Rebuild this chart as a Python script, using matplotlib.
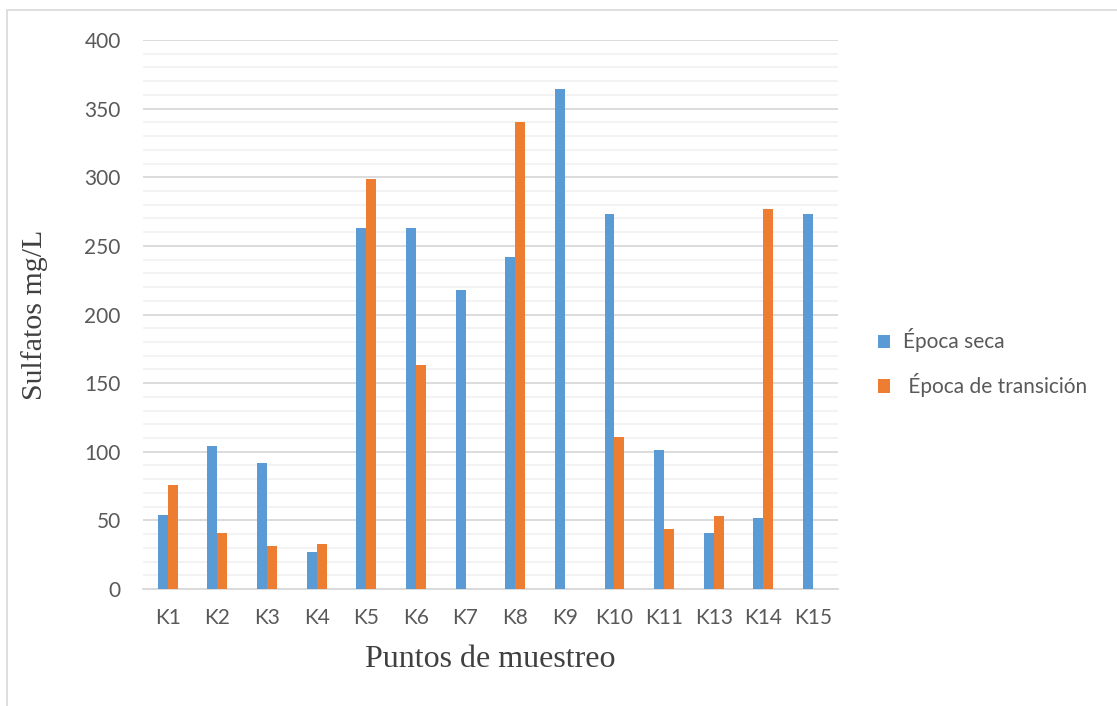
import numpy as np
import matplotlib.pyplot as plt
from matplotlib.patches import Rectangle

puntos = ["K1", "K2", "K3", "K4", "K5", "K6", "K7", "K8", "K9", "K10", "K11", "K13", "K14", "K15"]
seca = [54, 104, 92, 27, 263, 263, 218, 242, 364, 273, 101, 41, 52, 273]
transicion = [76, 41, 31, 33, 299, 163, 0, 340, 0, 111, 44, 53, 277, 0]

azul = "#5B9BD5"
naranja = "#ED7D31"
gris = "#595959"

fig = plt.figure(figsize=(11.17, 7.06), dpi=100)
ax = fig.add_axes([0.128, 0.1657, 0.622, 0.7776])

# marco fino del grafico
fig.patches.append(Rectangle((7 / 1117, -0.1), 1.2, 1.1 - 10 / 706, transform=fig.transFigure,
                             fill=False, edgecolor="#d9d9d9", linewidth=1.2))

x = np.arange(len(puntos))
w = 0.2
ax.bar(x - w / 2, seca, w, color=azul, label="Época seca", zorder=3)
ax.bar(x + w / 2, transicion, w, color=naranja, label=" Época de transición", zorder=3)

ax.set_xlim(-0.5, len(puntos) - 0.5)
ax.set_ylim(0, 400)
ax.set_yticks(range(0, 401, 50))
ax.set_yticks(range(0, 401, 10), minor=True)
ax.grid(axis="y", which="major", color="#d9d9d9", linewidth=1.3, zorder=0)
ax.grid(axis="y", which="minor", color="#f2f2f2", linewidth=1.3, zorder=0)
ax.set_xticks(x)
ax.set_xticklabels(puntos)
ax.tick_params(axis="both", which="both", length=0, labelsize=15, labelcolor=gris,
               labelfontfamily="Lato")
ax.tick_params(axis="y", pad=16)
ax.tick_params(axis="x", pad=14)
for s in ["top", "right", "left"]:
    ax.spines[s].set_visible(False)
ax.spines["bottom"].set_color("#d9d9d9")
ax.spines["bottom"].set_linewidth(1.3)

ax.set_ylabel("Sulfatos mg/L", fontsize=21.5, family="Liberation Serif", color="#404040", labelpad=26)
ax.set_xlabel("Puntos de muestreo", fontsize=23, family="Liberation Serif", color="#404040", labelpad=12)

ax.legend(loc="center left", bbox_to_anchor=(0.769, 0.486), bbox_transform=fig.transFigure,
          frameon=False, prop={"family": "Lato", "size": 15}, labelcolor=gris,
          handlelength=0.6, handleheight=0.6, handletextpad=0.6, labelspacing=1.0)

fig.savefig("out.png", dpi=100)
